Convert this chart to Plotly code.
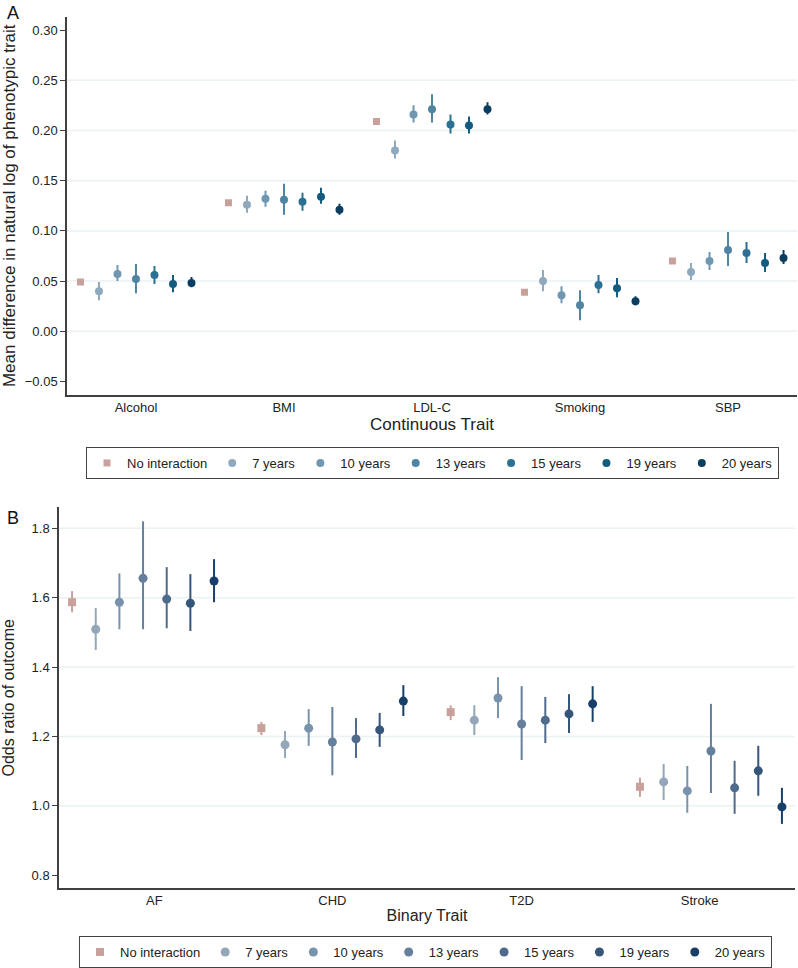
import plotly.graph_objects as go

W, H = 798, 968

series = ["No interaction", "7 years", "10 years", "13 years", "15 years", "19 years", "20 years"]

# ---------------- Panel A: continuous traits ----------------
traits_a = ["Alcohol", "BMI", "LDL-C", "Smoking", "SBP"]
est_a = {
    "No interaction": [0.049, 0.128, 0.209, 0.039, 0.070],
    "7 years":  [0.040, 0.126, 0.180, 0.050, 0.059],
    "10 years": [0.057, 0.132, 0.216, 0.036, 0.070],
    "13 years": [0.052, 0.131, 0.221, 0.026, 0.081],
    "15 years": [0.056, 0.129, 0.206, 0.046, 0.078],
    "19 years": [0.047, 0.134, 0.205, 0.043, 0.068],
    "20 years": [0.048, 0.121, 0.221, 0.030, 0.073],
}
lo_a = {
    "No interaction": [0.048, 0.127, 0.208, 0.038, 0.069],
    "7 years":  [0.031, 0.118, 0.172, 0.040, 0.051],
    "10 years": [0.050, 0.124, 0.208, 0.028, 0.061],
    "13 years": [0.038, 0.116, 0.208, 0.011, 0.065],
    "15 years": [0.047, 0.120, 0.197, 0.038, 0.068],
    "19 years": [0.039, 0.127, 0.197, 0.034, 0.059],
    "20 years": [0.044, 0.116, 0.216, 0.026, 0.067],
}
hi_a = {
    "No interaction": [0.050, 0.129, 0.210, 0.040, 0.071],
    "7 years":  [0.049, 0.135, 0.190, 0.061, 0.068],
    "10 years": [0.066, 0.140, 0.225, 0.045, 0.079],
    "13 years": [0.067, 0.147, 0.236, 0.041, 0.099],
    "15 years": [0.065, 0.138, 0.216, 0.056, 0.089],
    "19 years": [0.056, 0.143, 0.214, 0.053, 0.078],
    "20 years": [0.054, 0.127, 0.228, 0.035, 0.081],
}
ticks_a = [-0.05, 0.00, 0.05, 0.10, 0.15, 0.20, 0.25, 0.30]
grid_a = [0.00, 0.05, 0.10, 0.15, 0.20, 0.25]

# ---------------- Panel B: binary traits ----------------
traits_b = ["AF", "CHD", "T2D", "Stroke"]
est_b = {
    "No interaction": [1.587, 1.224, 1.270, 1.055],
    "7 years":  [1.509, 1.176, 1.247, 1.069],
    "10 years": [1.587, 1.224, 1.311, 1.043],
    "13 years": [1.656, 1.184, 1.236, 1.158],
    "15 years": [1.596, 1.193, 1.247, 1.052],
    "19 years": [1.584, 1.219, 1.265, 1.101],
    "20 years": [1.648, 1.302, 1.294, 0.997],
}
lo_b = {
    "No interaction": [1.558, 1.204, 1.247, 1.026],
    "7 years":  [1.449, 1.138, 1.204, 1.017],
    "10 years": [1.509, 1.173, 1.253, 0.980],
    "13 years": [1.509, 1.088, 1.132, 1.037],
    "15 years": [1.512, 1.138, 1.181, 0.977],
    "19 years": [1.504, 1.170, 1.210, 1.029],
    "20 years": [1.587, 1.259, 1.242, 0.948],
}
hi_b = {
    "No interaction": [1.619, 1.242, 1.290, 1.081],
    "7 years":  [1.570, 1.216, 1.290, 1.121],
    "10 years": [1.670, 1.279, 1.371, 1.115],
    "13 years": [1.820, 1.285, 1.345, 1.294],
    "15 years": [1.688, 1.253, 1.314, 1.130],
    "19 years": [1.668, 1.268, 1.322, 1.173],
    "20 years": [1.711, 1.348, 1.345, 1.052],
}
ticks_b = [0.8, 1.0, 1.2, 1.4, 1.6, 1.8]
grid_b = [1.0, 1.2, 1.4, 1.6, 1.8]
label_pos_b = [0.06, 1.0, 2.0, 2.94]

colors_a = ["#C9A19C", "#8FAABF", "#6F97B2", "#4F84A2", "#2C7194", "#135B7F", "#0B3E5E"]
colors_b = ["#C9A19C", "#93A6BA", "#7A93AC", "#667F9C", "#4F6B8C", "#355679", "#173F67"]
offsets = [-0.375, -0.25, -0.125, 0.0, 0.125, 0.25, 0.375]

FONT = "Liberation Sans, Arial, sans-serif"
AXIS_COL = "#404040"
GRID_COL = "#EAF2F4"

fig = go.Figure()

for k, s in enumerate(series):
    sym = "square" if k == 0 else "circle"
    # panel A
    xs = [i + offsets[k] for i in range(len(traits_a))]
    e, l, h = est_a[s], lo_a[s], hi_a[s]
    fig.add_trace(go.Scatter(
        x=xs, y=e, mode="markers", name=s, legend="legend",
        marker=dict(symbol=sym, size=8 if k else 7, color=colors_a[k]),
        error_y=dict(type="data", symmetric=False,
                     array=[hh - ee for hh, ee in zip(h, e)],
                     arrayminus=[ee - ll for ee, ll in zip(e, l)],
                     width=0, thickness=2, color=colors_a[k]),
        xaxis="x", yaxis="y"))
    # panel B
    xs = [i + offsets[k] for i in range(len(traits_b))]
    e, l, h = est_b[s], lo_b[s], hi_b[s]
    fig.add_trace(go.Scatter(
        x=xs, y=e, mode="markers", name=s, legend="legend2",
        marker=dict(symbol=sym, size=9 if k else 8, color=colors_b[k]),
        error_y=dict(type="data", symmetric=False,
                     array=[hh - ee for hh, ee in zip(h, e)],
                     arrayminus=[ee - ll for ee, ll in zip(e, l)],
                     width=0, thickness=2, color=colors_b[k]),
        xaxis="x2", yaxis="y2"))

shapes = []
for g in grid_a:
    shapes.append(dict(type="line", xref="x domain", yref="y", x0=0, x1=1, y0=g, y1=g,
                       line=dict(color=GRID_COL, width=1.5), layer="below"))
for g in grid_b:
    shapes.append(dict(type="line", xref="x2 domain", yref="y2", x0=0, x1=1, y0=g, y1=g,
                       line=dict(color=GRID_COL, width=1.5), layer="below"))

def px_x(p):
    return p / W

def px_y(p):
    return 1 - p / H

axis_common = dict(showline=True, linecolor=AXIS_COL, linewidth=1.5, zeroline=False,
                   showgrid=False, tickfont=dict(family=FONT, size=13, color="#222"))

fig.update_layout(
    width=W, height=H,
    margin=dict(l=0, r=0, t=0, b=0),
    paper_bgcolor="white", plot_bgcolor="white",
    font=dict(family=FONT, color="#222"),
    shapes=shapes,
    xaxis=dict(domain=[px_x(67), px_x(797)], anchor="y", range=[-0.466, 4.466],
               tickmode="array", tickvals=list(range(len(traits_a))), ticktext=traits_a,
               ticks="", ticklen=0,
               title=dict(text="Continuous Trait", font=dict(family=FONT, size=17), standoff=1),
               **axis_common),
    yaxis=dict(domain=[px_y(395), px_y(17)], anchor="x", range=[-0.063, 0.313],
               tickmode="array", tickvals=ticks_a, ticktext=[f"{t:.2f}".replace("-", "\u2212") for t in ticks_a],
               ticks="outside", ticklen=5, tickcolor=AXIS_COL,
               title=dict(text="Mean difference in natural log of phenotypic trait",
                          font=dict(family=FONT, size=17), standoff=7),
               **axis_common),
    xaxis2=dict(domain=[px_x(59), px_x(795)], anchor="y2", range=[-0.444, 3.444],
                tickmode="array", tickvals=label_pos_b, ticktext=traits_b,
                ticks="", ticklen=0,
                title=dict(text="Binary Trait", font=dict(family=FONT, size=16), standoff=2),
                **axis_common),
    yaxis2=dict(domain=[px_y(889), px_y(508)], anchor="x2", range=[0.763, 1.86],
                tickmode="array", tickvals=ticks_b, ticktext=[f"{t:.1f}" for t in ticks_b],
                ticks="outside", ticklen=5, tickcolor=AXIS_COL,
                title=dict(text="Odds ratio of outcome", font=dict(family=FONT, size=16), standoff=13),
                **axis_common),
    legend=dict(orientation="h", x=px_x(86), y=px_y(447), xanchor="left", yanchor="top",
                bordercolor="#444", borderwidth=1, bgcolor="white",
                font=dict(family=FONT, size=13), itemwidth=30, tracegroupgap=0),
    legend2=dict(orientation="h", x=px_x(79), y=px_y(937), xanchor="left", yanchor="top",
                 bordercolor="#444", borderwidth=1, bgcolor="white",
                 font=dict(family=FONT, size=13), itemwidth=30, tracegroupgap=0),
    annotations=[
        dict(text="A", x=px_x(5), y=px_y(1), xref="paper", yref="paper", xanchor="left",
             yanchor="top", showarrow=False, font=dict(family=FONT, size=18, color="#111")),
        dict(text="B", x=px_x(5), y=px_y(507), xref="paper", yref="paper", xanchor="left",
             yanchor="top", showarrow=False, font=dict(family=FONT, size=18, color="#111")),
    ],
)

fig.write_html("out.html", config={"displayModeBar": False},
               post_script="document.body.style.margin='0';document.body.style.padding='0';")
